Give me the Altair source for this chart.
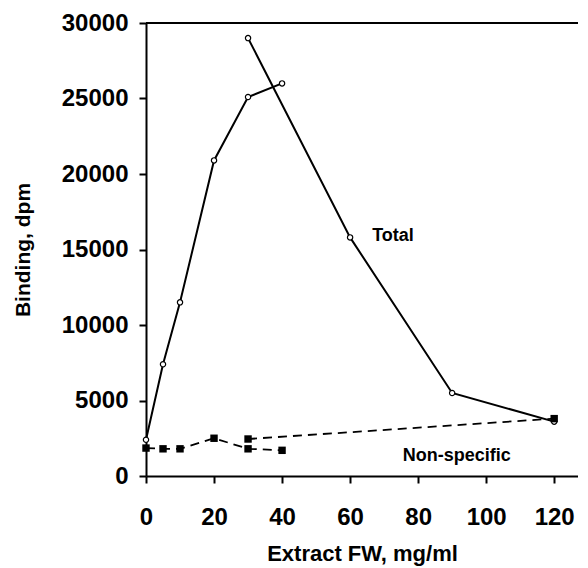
import altair as alt
import pandas as pd

# Data
total_a_x = [0, 5, 10, 20, 30, 40]
total_a_y = [2400, 7400, 11500, 20900, 25100, 26000]
total_b_x = [30, 60, 90, 120]
total_b_y = [29000, 15800, 5500, 3600]

ns_a_x = [0, 5, 10, 20, 30, 40]
ns_a_y = [1850, 1800, 1800, 2500, 1800, 1700]
ns_b_x = [30, 120]
ns_b_y = [2450, 3800]

x_ticks = [0, 20, 40, 60, 80, 100, 120]
y_ticks = [0, 5000, 10000, 15000, 20000, 25000, 30000]

label_text = ["Total", "Non-specific"]
label_x = [66.5, 75.5]
label_y = [15900, 1330]


def seg(xs, ys, name):
    return pd.DataFrame({"x": xs, "y": ys, "seg": name, "o": list(range(len(xs)))})


total = pd.concat([seg(total_a_x, total_a_y, "a"), seg(total_b_x, total_b_y, "b")])
ns = pd.concat([seg(ns_a_x, ns_a_y, "a"), seg(ns_b_x, ns_b_y, "b")])
labels = pd.DataFrame({"t": label_text, "x": label_x, "y": label_y})

x_enc = alt.X("x:Q", scale=alt.Scale(domain=[0, 127], nice=False, zero=False),
              axis=alt.Axis(values=x_ticks, title="Extract FW, mg/ml", grid=False,
                            tickSize=7, labelPadding=22, titlePadding=14,
                            labelFontSize=24, titleFontSize=22, format="d",
                            labelFlush=False))
y_enc = alt.Y("y:Q", scale=alt.Scale(domain=[0, 30000], nice=False),
              axis=alt.Axis(values=y_ticks, title="Binding, dpm", grid=False,
                            tickSize=7, labelPadding=11, titlePadding=28,
                            labelFontSize=24, titleFontSize=21, format="d",
                            labelFlush=False))

total_line = alt.Chart(total).mark_line(color="black", strokeWidth=2).encode(
    x=x_enc, y=y_enc, detail="seg:N", order="o:Q")
total_pts = alt.Chart(total).mark_point(shape="circle", size=28, filled=True,
                                        fill="white", stroke="black", strokeWidth=1.2,
                                        opacity=1).encode(x=x_enc, y=y_enc)
ns_line = alt.Chart(ns).mark_line(color="black", strokeWidth=1.8,
                                  strokeDash=[9, 6]).encode(
    x=x_enc, y=y_enc, detail="seg:N", order="o:Q")
ns_pts = alt.Chart(ns).mark_point(shape="square", size=55, filled=True,
                                  color="black", opacity=1).encode(x=x_enc, y=y_enc)
top_rule = alt.Chart(pd.DataFrame({"y": [30000]})).mark_rule(
    color="black", strokeWidth=2).encode(y=y_enc)
text = alt.Chart(labels).mark_text(align="left", baseline="middle", fontSize=18,
                                   fontWeight="bold", font="Liberation Sans",
                                   color="black").encode(
    x=x_enc, y=y_enc, text="t:N")

chart = alt.layer(top_rule, total_line, ns_line, total_pts, ns_pts, text).properties(
    width=432, height=453,
    autosize=alt.AutoSizeParams(type="none"),
    padding={"left": 138, "top": 15, "right": 0, "bottom": 90},
).configure_view(stroke=None).configure_axis(
    labelFont="Liberation Sans", titleFont="Liberation Sans",
    labelFontWeight="bold", titleFontWeight="bold",
    labelColor="black", titleColor="black",
    domainColor="black", tickColor="black",
    domainWidth=2, tickWidth=2,
)

chart.save("out.html", embed_options={"renderer": "svg", "actions": False})
